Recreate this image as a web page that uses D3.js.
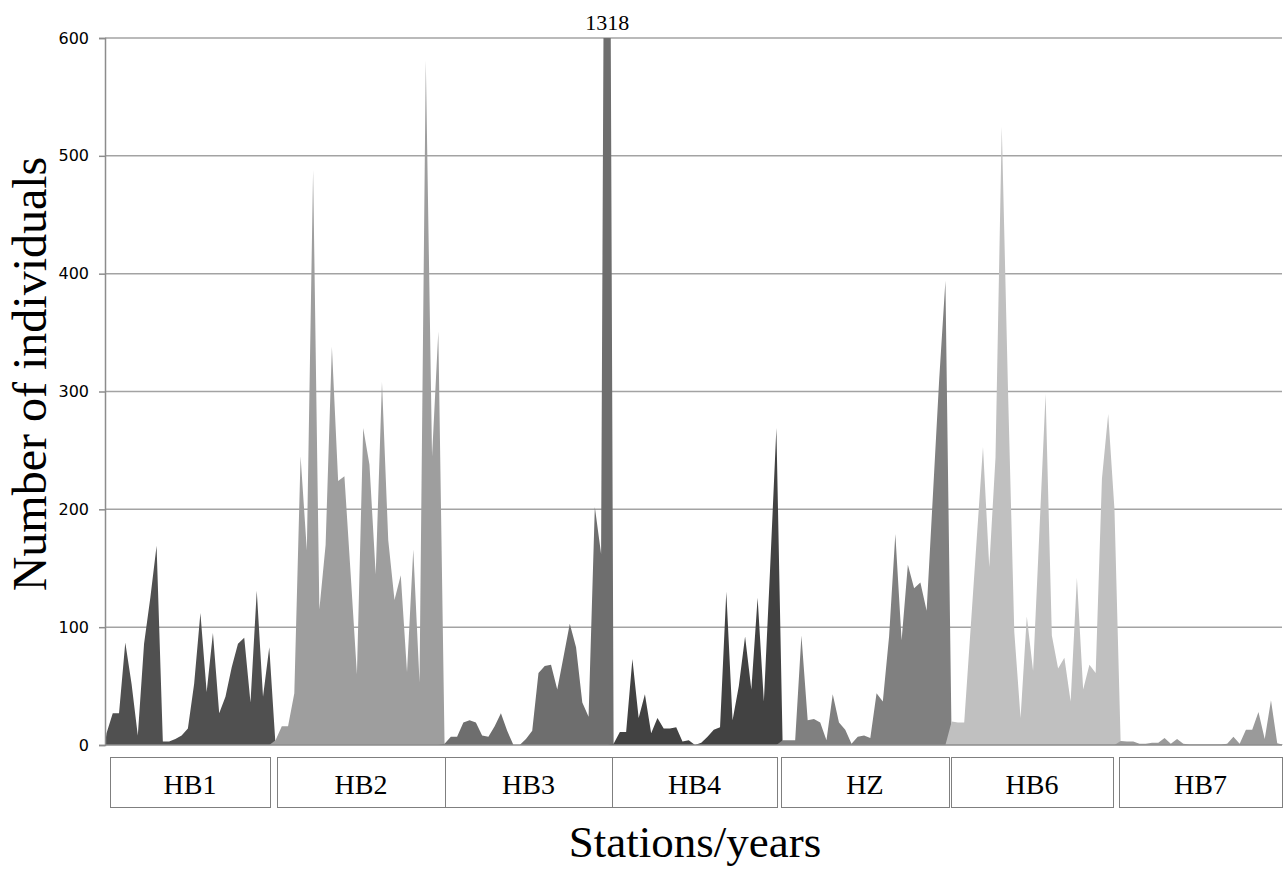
<!DOCTYPE html>
<html>
<head>
<meta charset="utf-8">
<script src="https://cdn.jsdelivr.net/npm/d3@7"></script>
<style>
  html, body { margin: 0; padding: 0; background: #fff; }
  svg { display: block; }
</style>
</head>
<body>
<svg id="chart" width="1285" height="870"></svg>
<script>
// ---- data ----
const stations = ["HB1", "HB2", "HB3", "HB4", "HZ", "HB6", "HB7"];
const hb1 = [10, 27, 27, 87, 52, 8, 86, 125, 169, 3, 3, 5, 8, 14, 52, 112, 45, 95, 27, 41, 66, 86, 91, 36, 131, 41, 83];
const hb2 = [4, 16, 16, 44, 245, 165, 488, 115, 170, 338, 224, 228, 145, 60, 269, 238, 145, 308, 174, 123, 144, 62, 166, 53, 581, 245, 351];
const hb3 = [1, 7, 7, 19, 21, 19, 8, 7, 16, 27, 12, 0, 0, 5, 12, 61, 67, 68, 47, 75, 103, 83, 36, 24, 202, 162, 1318];
const hb4 = [1, 11, 11, 73, 23, 43, 10, 23, 14, 14, 15, 3, 4, 0, 2, 7, 13, 15, 130, 21, 50, 92, 47, 125, 37, 150, 269];
const hz  = [4, 4, 4, 93, 21, 22, 19, 4, 43, 19, 13, 1, 7, 8, 6, 44, 37, 92, 179, 89, 153, 133, 138, 114, 212, 310, 394];
const hb6 = [20, 19, 19, 97, 175, 253, 151, 244, 525, 300, 96, 23, 109, 63, 180, 298, 93, 65, 74, 37, 142, 47, 68, 61, 226, 281, 200];
const hb7 = [3.5, 3, 3, 1, 1, 2, 2, 6, 1, 5, 1, 0.5, 0.5, 0.5, 0.5, 0.5, 0.5, 1, 7, 1, 13, 13, 28, 5, 38, 1.5, 0];
const seriesValues = [hb1, hb2, hb3, hb4, hz, hb6, hb7];
const yTicks = [0, 100, 200, 300, 400, 500, 600];
const outOfRangeLabel = "1318";

// ---- styles / layout ----
const colors = ["#505050", "#9e9e9e", "#6e6e6e", "#424242", "#808080", "#c0c0c0", "#9a9a9a"];
const boxX = [[110, 270], [277, 445], [445, 612], [612, 777], [781, 949], [951, 1113], [1119, 1282]];
const plot = { left: 105, right: 1282, top: 38, bottom: 745 };

const svg = d3.select("#chart");
const nPer = hb1.length;
const total = nPer * stations.length;

const x = d3.scalePoint().domain(d3.range(total)).range([plot.left + 1.5, plot.right + 1.5]).padding(0);
const y = d3.scaleLinear().domain([0, 600]).range([plot.bottom, plot.top]);

// clip
svg.append("defs").append("clipPath").attr("id", "plotclip")
  .append("rect").attr("x", plot.left).attr("y", plot.top)
  .attr("width", plot.right - plot.left + 1).attr("height", plot.bottom - plot.top);

// gridlines
svg.append("g").selectAll("line").data(yTicks.filter(d => d > 0)).join("line")
  .attr("x1", plot.left).attr("x2", plot.right)
  .attr("y1", d => y(d)).attr("y2", d => y(d))
  .attr("stroke", "#a3a3a3").attr("stroke-width", 1.5);

// areas
const gA = svg.append("g").attr("clip-path", "url(#plotclip)");
seriesValues.forEach((vals, s) => {
  const start = s * nPer;
  const pts = [];
  if (start - 1 >= 0) pts.push({ i: start - 1, v: 0 });
  else pts.push({ i: 0, v: 0, x0: true });
  vals.forEach((v, k) => pts.push({ i: start + k, v }));
  if (start + nPer < total) pts.push({ i: start + nPer, v: 0 });
  gA.append("path").datum(pts)
    .attr("d", d3.area().x(d => d.x0 ? plot.left : x(d.i)).y0(y(0)).y1(d => y(d.v)))
    .attr("fill", colors[s]);
});

// y axis
const yAxis = d3.axisLeft(y).tickValues(yTicks).tickSize(6).tickPadding(10);
const gy = svg.append("g").attr("transform", `translate(${plot.left},0)`).call(yAxis);
gy.select(".domain").attr("stroke", "#8c8c8c").attr("stroke-width", 1.5);
gy.selectAll(".tick line").attr("stroke", "#8c8c8c").attr("stroke-width", 1.5);
gy.selectAll(".tick text").attr("font-family", "'DejaVu Sans', Verdana, sans-serif")
  .attr("font-size", 16).attr("fill", "#000");

// x baseline
svg.append("line").attr("x1", plot.left).attr("x2", plot.right)
  .attr("y1", plot.bottom).attr("y2", plot.bottom)
  .attr("stroke", "#8c8c8c").attr("stroke-width", 1.5);

// out-of-range label above the clipped spike
const spikeIdx = 2 * nPer + hb3.indexOf(1318);
svg.append("text").attr("x", x(spikeIdx)).attr("y", 30)
  .attr("text-anchor", "middle")
  .attr("font-family", "'Liberation Serif', 'Times New Roman', serif")
  .attr("font-size", 22).text(outOfRangeLabel);

// station boxes
const gb = svg.append("g");
stations.forEach((name, s) => {
  const [x0, x1] = boxX[s];
  gb.append("rect").attr("x", x0 + 0.5).attr("y", 757.5)
    .attr("width", x1 - x0).attr("height", 50)
    .attr("fill", "#fff").attr("stroke", "#7f7f7f").attr("stroke-width", 1);
  gb.append("text").attr("x", (x0 + x1) / 2).attr("y", 794)
    .attr("text-anchor", "middle")
    .attr("font-family", "'Liberation Serif', 'Times New Roman', serif")
    .attr("font-size", 28).text(name);
});

// axis titles
svg.append("text").attr("x", 695).attr("y", 857).attr("text-anchor", "middle")
  .attr("font-family", "'Liberation Serif', 'Times New Roman', serif")
  .attr("font-size", 45).text("Stations/years");

svg.append("text").attr("transform", "translate(46,374) rotate(-90)")
  .attr("text-anchor", "middle")
  .attr("font-family", "'Liberation Serif', 'Times New Roman', serif")
  .attr("font-size", 48).text("Number of individuals");
</script>
</body>
</html>
